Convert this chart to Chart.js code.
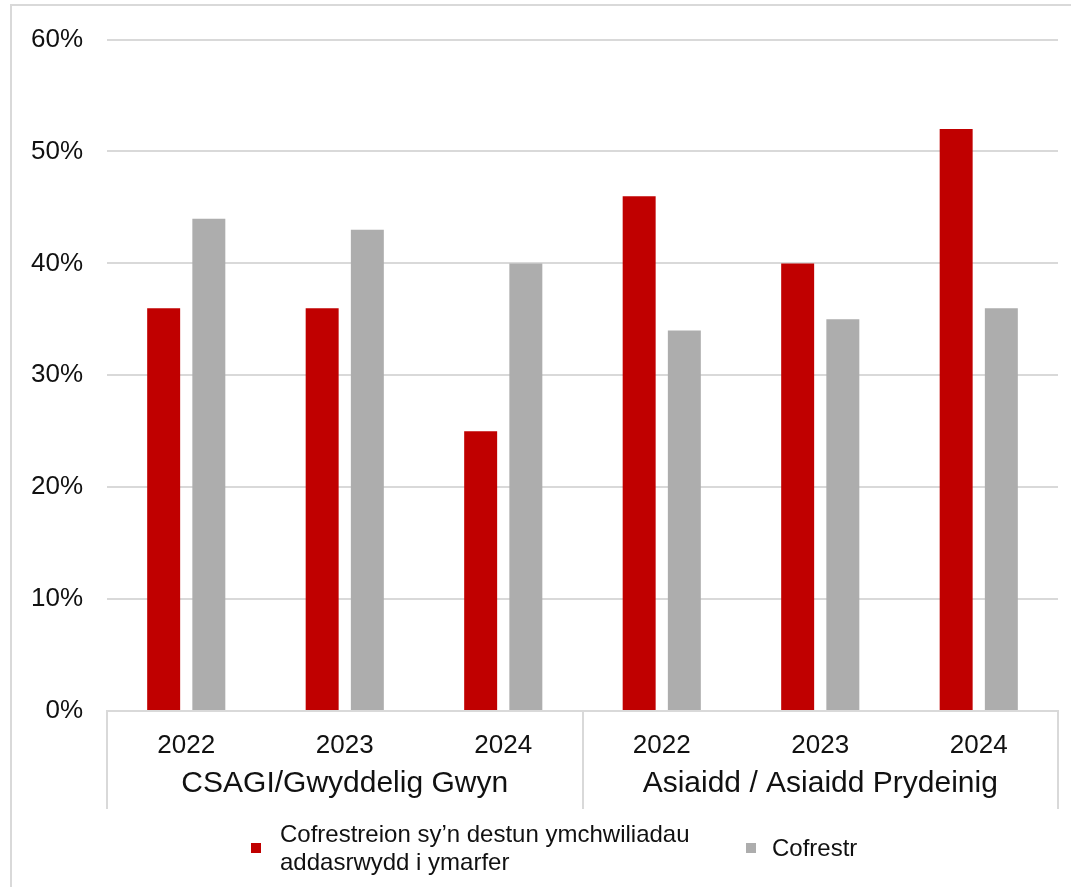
<!DOCTYPE html>
<html>
<head>
<meta charset="utf-8">
<script src="https://cdn.jsdelivr.net/npm/chart.js@4"></script>
<style>
  body { margin: 0; background: #fff; font-family: "Liberation Sans", Arial, sans-serif; }
  #wrap { position: relative; width: 1071px; height: 887px; overflow: hidden; }
  #frame { position: absolute; left: 10px; top: 4px; width: 1100px; height: 1000px; border: 2px solid #d9d9d9; }
  #mygraph { position: absolute; left: 0; top: 0; }
  #legend { position: absolute; left: 251px; top: 820px; display: flex; align-items: center; color: #111; font-size: 24px; line-height: 28px; }
  .item { display: flex; align-items: center; }
  .box { width: 10px; height: 10px; margin-right: 19px; }
</style>
</head>
<body>
<div id="wrap">
  <div id="frame"></div>
  <canvas id="mygraph" width="1071" height="887"></canvas>
  <div id="legend"></div>
</div>
<script>
let years = ["2022", "2023", "2024", "2022", "2023", "2024"];
let groups = ["CSAGI/Gwyddelig Gwyn", "Asiaidd / Asiaidd Prydeinig"];
let investigated = [36, 36, 25, 46, 40, 52];
let register = [44, 43, 40, 34, 35, 36];

// draws years, group names and the group separators under the axis
var groupAxis = {
  id: "groupAxis",
  afterDraw(chart) {
    var ctx = chart.ctx;
    var x = chart.scales.x;
    var bottom = chart.chartArea.bottom;
    var step = (x.right - x.left) / years.length;
    ctx.save();
    ctx.fillStyle = "#111";
    ctx.textAlign = "center";
    ctx.textBaseline = "alphabetic";
    ctx.font = "26px 'Liberation Sans', Arial";
    years.forEach(function (y, i) {
      ctx.fillText(y, x.getPixelForValue(i), bottom + 42);
    });
    ctx.font = "30px 'Liberation Sans', Arial";
    var per = years.length / groups.length;
    groups.forEach(function (g, k) {
      var mid = x.left + step * per * (k + 0.5);
      ctx.fillText(g, mid, bottom + 81);
    });
    ctx.strokeStyle = "#d9d9d9";
    ctx.lineWidth = 2;
    for (var k = 0; k <= groups.length; k++) {
      var sx = Math.round(x.left + step * per * k);
      ctx.beginPath();
      ctx.moveTo(sx, bottom);
      ctx.lineTo(sx, bottom + 98);
      ctx.stroke();
    }
    ctx.restore();
  }
};

var ctx = document.getElementById("mygraph");

var mygraph = new Chart(ctx, {
  type: 'bar',
  data: {
    labels: years,
    datasets: [
      {
        data: investigated,
        label: "Cofrestreion sy’n destun ymchwiliadau addasrwydd i ymarfer",
        backgroundColor: "#c00000"
      },
      {
        data: register,
        label: "Cofrestr",
        backgroundColor: "#adadad"
      }
    ]
  },
  options: {
    responsive: false,
    animation: false,
    categoryPercentage: 0.57,
    barPercentage: 0.73,
    layout: { padding: { top: 39, right: 13, bottom: 176, left: 0 } },
    plugins: { legend: { display: false }, tooltip: { enabled: false } },
    scales: {
      x: {
        ticks: { display: false },
        grid: { display: false },
        border: { color: "#d9d9d9", width: 2 },
        afterFit(scale) { scale.height = 0; }
      },
      y: {
        min: 0,
        max: 60,
        ticks: {
          stepSize: 10,
          padding: 24,
          color: "#111",
          font: { family: "'Liberation Sans', Arial", size: 26 },
          callback: function (v) { return v + "%"; }
        },
        grid: { color: "#d9d9d9", lineWidth: 2, drawTicks: false },
        border: { display: false },
        afterFit(scale) { scale.width = 107; }
      }
    }
  },
  plugins: [groupAxis]
});

// html legend from the datasets
var legend = document.getElementById("legend");
mygraph.data.datasets.forEach(function (ds, i) {
  var item = document.createElement("div");
  item.className = "item";
  if (i > 0) item.style.marginLeft = "26px";
  var box = document.createElement("span");
  box.className = "box";
  box.style.background = ds.backgroundColor;
  if (i > 0) box.style.marginRight = "16px";
  var txt = document.createElement("span");
  txt.textContent = ds.label;
  if (i == 0) txt.style.width = "440px";
  item.appendChild(box);
  item.appendChild(txt);
  legend.appendChild(item);
});
</script>
</body>
</html>
